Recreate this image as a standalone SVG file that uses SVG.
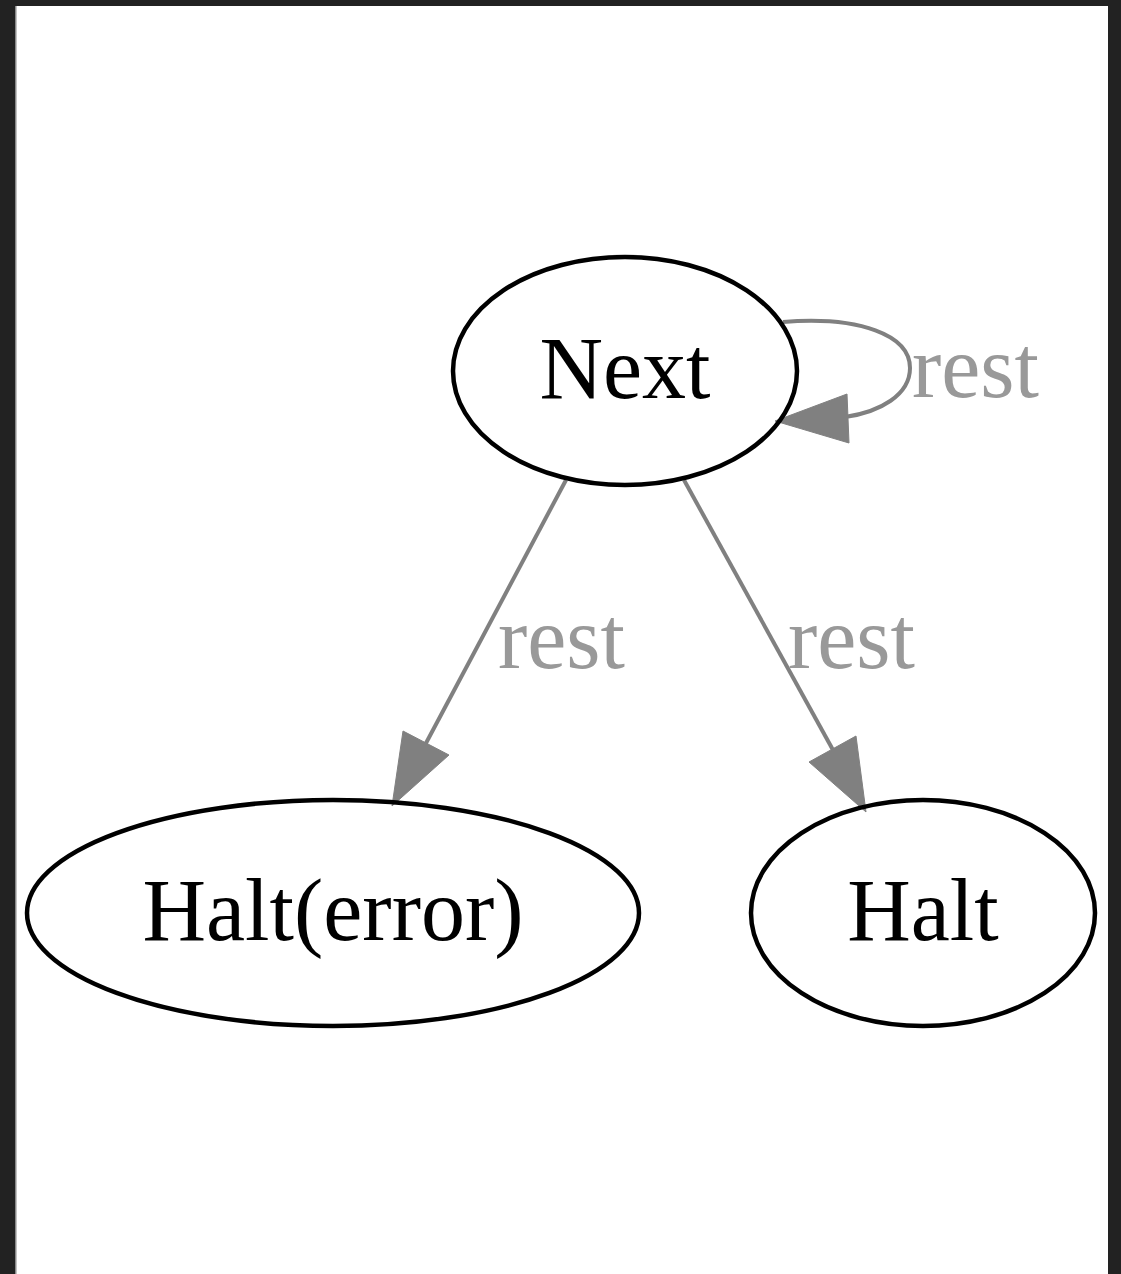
<svg xmlns="http://www.w3.org/2000/svg" width="1121" height="1274" viewBox="0 0 1121 1274">
<style>
.node{fill:none;stroke:#000;stroke-width:4.5}
.lbl{font-family:"Liberation Serif","Times New Roman",serif;font-size:88px;text-anchor:middle;fill:#000}
.elbl{font-family:"Liberation Serif","Times New Roman",serif;font-size:88px;fill:#999}
.edge{fill:none;stroke:#808080;stroke-width:4}
.head{fill:#808080;stroke:#808080;stroke-width:1}
</style>
<rect x="0" y="0" width="1121" height="1274" fill="#222"/>
<rect x="15" y="6" width="1093" height="1268" fill="#fff"/>
<rect x="15" y="6" width="1.5" height="1268" fill="#888"/>
<g id="connectors">
<path class="edge" d="M783,322 C860,316 910,335 910,368 C910,395 880,412 845,417"/>
<polygon class="head" points="775,421 847,394 849,443"/>
<line class="edge" x1="566" y1="480" x2="425" y2="745"/>
<polygon class="head" points="392,806 403,731 449,755"/>
<line class="edge" x1="684" y1="480" x2="833" y2="750"/>
<polygon class="head" points="866,812 809,762 856,736"/>
<text class="elbl" x="912" y="397">rest</text>
<text class="elbl" x="498" y="668">rest</text>
<text class="elbl" x="788" y="668">rest</text>
</g>
<g id="node-next">
<ellipse class="node" cx="625" cy="371" rx="172" ry="114"/>
<text class="lbl" x="625" y="398">Next</text>
</g>
<g id="node-halterror">
<ellipse class="node" cx="333" cy="913" rx="306" ry="113"/>
<text class="lbl" x="333" y="940">Halt(error)</text>
</g>
<g id="node-halt">
<ellipse class="node" cx="923" cy="913" rx="172" ry="113"/>
<text class="lbl" x="923" y="940">Halt</text>
</g>
</svg>
